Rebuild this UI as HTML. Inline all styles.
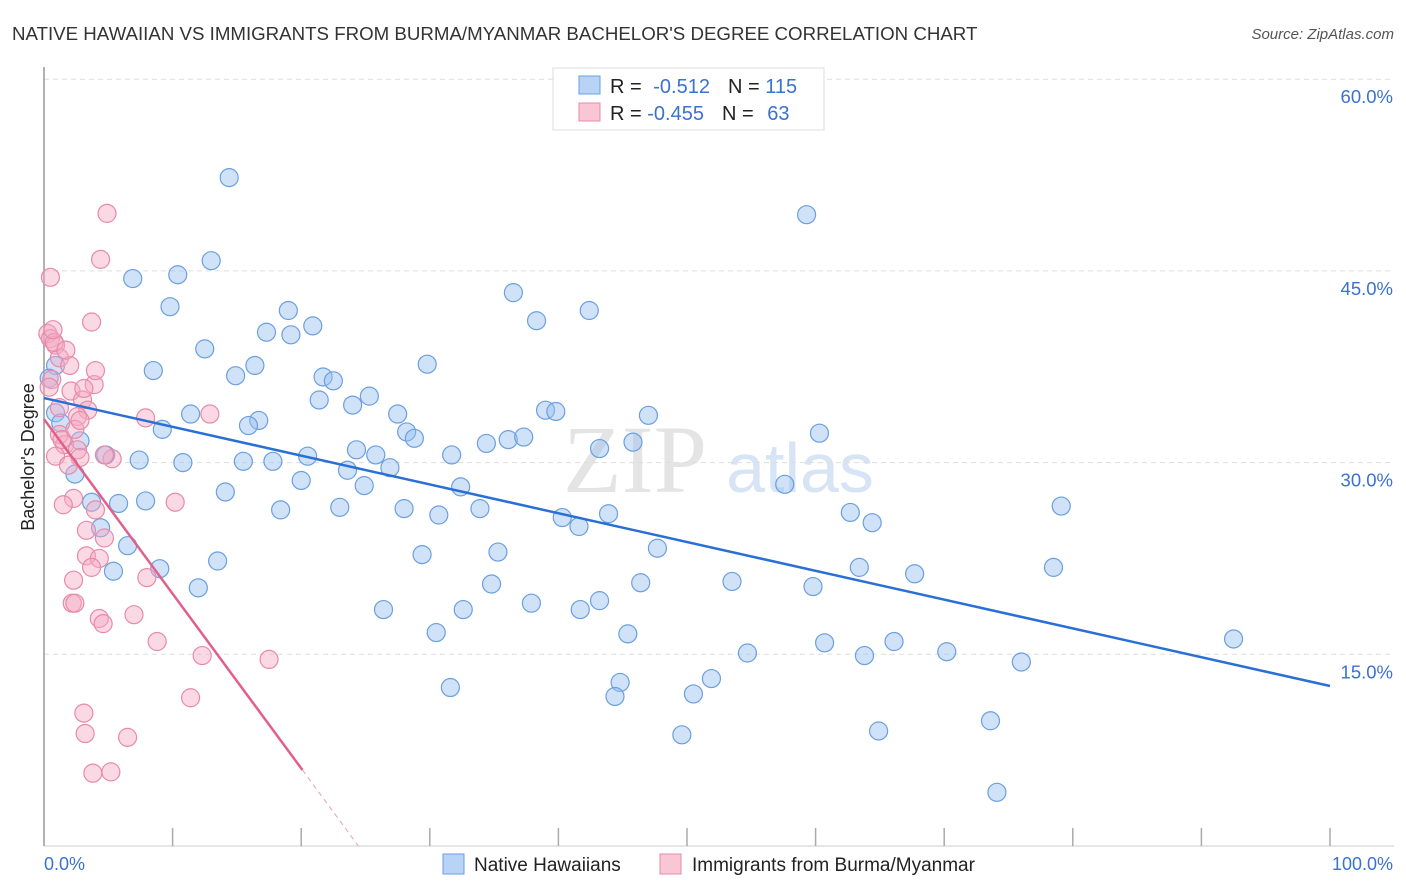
<!DOCTYPE html>
<html><head><meta charset="utf-8"><style>
body{margin:0;background:#fff;font-family:"Liberation Sans",sans-serif}
svg{display:block}
</style></head><body>
<svg id="c" width="1406" height="892" xmlns="http://www.w3.org/2000/svg">
<text x="12" y="40" font-size="18.7" fill="#333">NATIVE HAWAIIAN VS IMMIGRANTS FROM BURMA/MYANMAR BACHELOR'S DEGREE CORRELATION CHART</text>
<text x="1394" y="39" font-size="15" fill="#555" font-style="italic" text-anchor="end">Source: ZipAtlas.com</text>
<text x="635" y="492" font-size="96" fill="#e4e4e4" font-family="Liberation Serif" text-anchor="middle">ZIP</text>
<text x="800" y="492" font-size="70" fill="#d6e4f5" text-anchor="middle">atlas</text>
<text transform="translate(34,457) rotate(-90)" font-size="18" fill="#222" text-anchor="middle">Bachelor's Degree</text>
<g id="grid"></g><g id="pts"></g><g id="lines"></g>
<g>
<rect x="553" y="68" width="271" height="62" fill="#fff" stroke="#ddd"/>
<rect x="579" y="76" width="21" height="18" fill="#b8d3f5" stroke="#6a9fe0"/>
<rect x="579" y="103" width="21" height="18" fill="#f9c6d5" stroke="#e88aa8"/>
<text x="610" y="93" font-size="20" fill="#222">R = <tspan fill="#3a72d0" dx="6">-0.512</tspan><tspan dx="18" fill="#222">N = </tspan><tspan fill="#3a72d0">115</tspan></text>
<text x="610" y="120" font-size="20" fill="#222">R = <tspan fill="#3a72d0">-0.455</tspan><tspan dx="18" fill="#222">N = </tspan><tspan fill="#3a72d0" dx="8">63</tspan></text>
</g>
<g>
<rect x="443" y="854" width="21" height="20" fill="#b8d3f5" stroke="#6a9fe0"/>
<text x="474" y="871" font-size="19" fill="#222">Native Hawaiians</text>
<rect x="660" y="854" width="21" height="20" fill="#f9c6d5" stroke="#e88aa8"/>
<text x="692" y="871" font-size="19" fill="#222">Immigrants from Burma/Myanmar</text>
</g>
<text x="44" y="870" font-size="18" fill="#3a72d0">0.0%</text>
<text x="1393" y="870" font-size="18" fill="#3a72d0" text-anchor="end">100.0%</text>
</svg>
<script>
const yTicks=[15,30,45,60];
const yTickLabels=["15.0%","30.0%","45.0%","60.0%"];
const xTicks=[0,10,20,30,40,50,60,70,80,90,100];
const blueX=[14.4,59.3,13.0,6.9,10.4,36.5,9.8,42.4,19.0,38.3,20.9,17.3,19.2,12.5,29.8,16.4,8.5,14.9,21.7,22.5,0.9,25.3,21.4,24.0,11.4,27.5,39.0,39.8,47.0,0.9,16.7,15.9,9.2,28.2,28.8,60.3,1.3,34.4,36.1,37.3,45.8,2.8,24.3,31.7,43.2,25.8,20.5,4.8,7.4,15.5,17.8,10.8,23.6,26.9,2.4,32.4,20.0,24.9,57.6,14.1,3.7,5.8,7.9,18.4,23.0,28.0,33.9,30.7,79.1,40.3,43.9,62.7,41.6,64.4,4.4,6.5,47.7,35.3,29.4,13.5,5.4,9.0,63.4,78.5,67.7,53.5,34.8,46.4,12.0,59.8,43.2,37.9,26.4,32.6,41.7,30.5,45.4,60.7,66.1,92.5,54.7,63.8,70.2,76.0,31.6,44.8,51.9,50.5,44.4,73.6,64.9,49.6,74.1,0.4];
const blueY=[52.3,49.4,45.8,44.4,44.7,43.3,42.2,41.9,41.9,41.1,40.7,40.2,40.0,38.9,37.7,37.6,37.2,36.8,36.7,36.4,37.6,35.2,34.9,34.5,33.8,33.8,34.1,34.0,33.7,33.9,33.3,32.9,32.6,32.4,31.9,32.3,33.1,31.5,31.8,32.0,31.6,31.7,31.0,30.6,31.1,30.6,30.5,30.6,30.2,30.1,30.1,30.0,29.4,29.6,29.1,28.1,28.6,28.2,28.3,27.7,26.9,26.8,27.0,26.3,26.5,26.4,26.4,25.9,26.6,25.7,26.0,26.1,25.0,25.3,24.9,23.5,23.3,23.0,22.8,22.3,21.5,21.7,21.8,21.8,21.3,20.7,20.5,20.6,20.2,20.3,19.2,19.0,18.5,18.5,18.5,16.7,16.6,15.9,16.0,16.2,15.1,14.9,15.2,14.4,12.4,12.8,13.1,11.9,11.7,9.8,9.0,8.7,4.2,36.6];
const pinkX=[4.9,4.4,0.5,3.7,0.3,0.5,0.9,1.2,2.0,0.6,3.9,2.1,3.0,3.4,1.2,2.6,7.9,12.9,1.2,1.6,2.6,2.8,0.9,1.9,5.3,2.3,1.5,4.0,10.2,3.3,4.7,3.3,4.3,3.7,8.0,2.3,2.2,2.4,8.8,4.3,4.6,7.0,12.3,17.5,11.4,3.1,3.2,6.5,3.8,5.2,0.4,0.8,1.7,1.4,0.7,3.1,4.7,2.4,4.0,2.8];
const pinkY=[49.5,45.9,44.5,41.0,40.1,39.7,39.2,38.2,37.6,36.5,36.1,35.6,34.9,34.1,34.3,33.6,33.5,33.8,32.2,31.4,31.0,30.4,30.5,29.8,30.3,27.2,26.7,26.3,26.9,24.7,24.1,22.7,22.5,21.8,21.0,20.8,19.0,19.0,16.0,17.8,17.4,18.1,14.9,14.6,11.6,10.4,8.8,8.5,5.7,5.8,35.9,39.4,38.8,31.8,40.4,35.8,30.6,32.6,37.2,33.3];
const blueFit=[35.05,-0.2253];
const pinkFit=[33.4,-1.366];
const X=v=>44+v*12.86, Y=v=>846-v*12.78;
const NS="http://www.w3.org/2000/svg";
function mk(t,a,p){const e=document.createElementNS(NS,t);for(const k in a)e.setAttribute(k,a[k]);p.appendChild(e);return e;}
const g=document.getElementById('grid');
yTicks.forEach((t,i)=>{
 const l=mk('line',{x1:44,x2:1394,y1:Y(t),y2:Y(t),stroke:'#ddd','stroke-dasharray':'5,4'},g);
 
 
 const tx=mk('text',{x:1393,y:Y(t)+24,'font-size':18.5,fill:'#3a72d0','text-anchor':'end'},g);
 tx.textContent=yTickLabels[i];
 
 
});
const ax=mk('line',{x1:44,x2:44,y1:67,y2:846,stroke:'#999','stroke-width':1.5},g);


const bx=mk('line',{x1:44,x2:1394,y1:846,y2:846,stroke:'#ccc'},g);


xTicks.forEach(t=>{
 const l=mk('line',{x1:X(t),x2:X(t),y1:828,y2:846,stroke:'#aaa','stroke-width':1.5},g);
 
 
});
const p=document.getElementById('pts');
blueX.forEach((v,i)=>{
 const c=mk('circle',{cx:X(v),cy:Y(blueY[i]),r:9,fill:'rgba(150,190,240,0.45)',stroke:'#6a9fe0','stroke-width':1.2},p);
 
 
});
pinkX.forEach((v,i)=>{
 const c=mk('circle',{cx:X(v),cy:Y(pinkY[i]),r:9,fill:'rgba(245,170,195,0.45)',stroke:'#e88aa8','stroke-width':1.2},p);
 
 
});
const L=document.getElementById('lines');
const b=mk('line',{x1:X(0),y1:Y(blueFit[0]),x2:X(100),y2:Y(blueFit[0]+100*blueFit[1]),stroke:'#2a6fd6','stroke-width':2.5},L);


const pe=20.1, pz=-pinkFit[0]/pinkFit[1];
const pk=mk('line',{x1:X(0),y1:Y(pinkFit[0]),x2:X(pe),y2:Y(pinkFit[0]+pe*pinkFit[1]),stroke:'#e0608a','stroke-width':2.5},L);


const pd=mk('line',{x1:X(pe),y1:Y(pinkFit[0]+pe*pinkFit[1]),x2:X(pz),y2:Y(0),stroke:'#e8a0b8','stroke-width':1,'stroke-dasharray':'5,4'},L);


</script>
</body></html>
